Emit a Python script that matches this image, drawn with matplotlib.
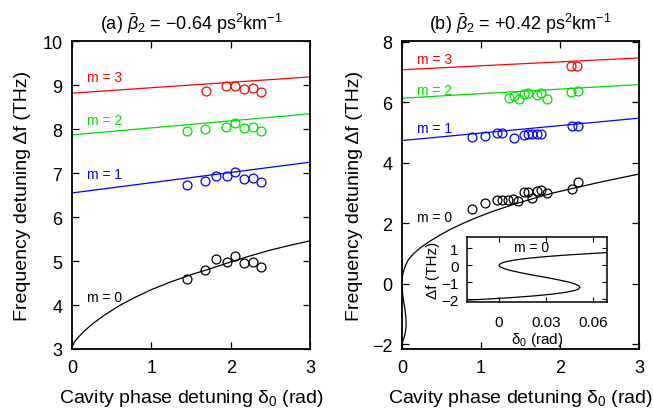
import matplotlib
matplotlib.use("Agg")
import matplotlib.pyplot as plt

plt.rcParams['font.family'] = ['Liberation Sans', 'DejaVu Sans']
plt.rcParams['mathtext.fontset'] = 'custom'
plt.rcParams['mathtext.rm'] = 'Liberation Sans'
plt.rcParams['mathtext.it'] = 'Liberation Sans:italic'
plt.rcParams['mathtext.bf'] = 'Liberation Sans:bold'

# ---------------- data ----------------
orders = ["m = 0", "m = 1", "m = 2", "m = 3"]
colors = ["black", "#0000ff", "#00dd00", "#ff0000"]

# panel (a): measured points
a_m0_d = [1.45, 1.68, 1.82, 1.95, 2.06, 2.17, 2.28, 2.38]
a_m0_f = [4.59, 4.80, 5.05, 4.99, 5.12, 4.96, 4.99, 4.86]
a_m1_d = [1.45, 1.68, 1.82, 1.95, 2.06, 2.17, 2.28, 2.38]
a_m1_f = [6.74, 6.82, 6.93, 6.93, 7.02, 6.87, 6.90, 6.79]
a_m2_d = [1.45, 1.68, 1.94, 2.06, 2.17, 2.28, 2.38]
a_m2_f = [7.97, 8.01, 8.06, 8.13, 8.02, 8.04, 7.97]
a_m3_d = [1.69, 1.94, 2.06, 2.17, 2.28, 2.38]
a_m3_f = [8.88, 8.99, 8.99, 8.92, 8.94, 8.85]
# panel (a): theory lines (endpoints at delta = 0 and 3)
line_d = [0.0, 3.0]
a_m1_line = [6.55, 7.25]
a_m2_line = [7.87, 8.35]
a_m3_line = [8.82, 9.19]
# panel (a): m = 0 theory curve
a_m0_curve_d = [0, 0.03, 0.08, 0.15, 0.25, 0.4, 0.6, 0.8, 1.0, 1.25, 1.5,
                1.75, 2.0, 2.25, 2.5, 2.75, 3.0]
a_m0_curve_f = [3.05, 3.16, 3.27, 3.40, 3.56, 3.76, 3.99, 4.18, 4.35, 4.53,
                4.69, 4.83, 4.98, 5.12, 5.25, 5.36, 5.46]

# panel (b): measured points
b_m0_d = [0.88, 1.05, 1.20, 1.27, 1.34, 1.41, 1.47, 1.54, 1.60, 1.65, 1.71,
          1.76, 1.83, 2.15, 2.23]
b_m0_f = [2.47, 2.66, 2.78, 2.78, 2.78, 2.81, 2.73, 3.03, 3.03, 2.83, 3.06,
          3.09, 3.00, 3.14, 3.36]
b_m1_d = [0.89, 1.05, 1.20, 1.27, 1.42, 1.54, 1.59, 1.65, 1.71, 1.76, 2.15,
          2.23]
b_m1_f = [4.85, 4.90, 4.98, 4.98, 4.82, 4.93, 4.94, 4.94, 4.96, 4.97, 5.22,
          5.22]
b_m2_d = [1.36, 1.42, 1.48, 1.54, 1.60, 1.71, 1.76, 1.83, 2.14, 2.23]
b_m2_f = [6.15, 6.21, 6.10, 6.28, 6.30, 6.25, 6.31, 6.12, 6.36, 6.38]
b_m3_d = [2.14, 2.22]
b_m3_f = [7.20, 7.20]
# panel (b): theory lines
b_m1_line = [4.74, 5.48]
b_m2_line = [6.14, 6.59]
b_m3_line = [7.08, 7.47]
# panel (b): m = 0 theory curve (frequency, phase) pairs
b_m0_curve_f = [-2.2, -2.1, -2.0, -1.9, -1.8, -1.7, -1.6, -1.5, -1.4, -1.3,
                -1.2, -1.1, -1.0, -0.9, -0.8, -0.7, -0.6, -0.5, -0.4, -0.3,
                -0.2, -0.1, 0.0, 0.1, 0.2, 0.3, 0.4, 0.5, 0.6, 0.7, 0.8, 1.0,
                1.2, 1.4, 1.6, 1.8, 2.0, 2.2, 2.4, 2.6, 2.8, 3.0, 3.2, 3.4,
                3.6, 3.7]
b_m0_curve_d = [-0.057, -0.031, -0.0094, 0.0085, 0.0228, 0.034, 0.042,
                0.0476, 0.0507, 0.0516, 0.0508, 0.0483, 0.0447, 0.040, 0.0346,
                0.0288, 0.0228, 0.0170, 0.0117, 0.0070, 0.0033, 0.0009, 0.0,
                0.001, 0.004, 0.0095, 0.0177, 0.0288, 0.0431, 0.061, 0.08,
                0.145, 0.235, 0.345, 0.47, 0.61, 0.77, 0.95, 1.15, 1.38, 1.63,
                1.90, 2.23, 2.57, 2.94, 3.13]

xticks = [0, 1, 2, 3]
a_yticks = [3, 4, 5, 6, 7, 8, 9, 10]
b_yticks = [-2, 0, 2, 4, 6, 8]
inset_xticks = [0, 0.03, 0.06]
inset_xticklabels = ["0", "0.03", "0.06"]
inset_yticks = [-2, -1, 0, 1]

# ---------------- figure ----------------
W, H = 653, 414
fig = plt.figure(figsize=(W / 100, H / 100), dpi=100)

def frac(x0, y0, x1, y1):
    return [x0 / W, 1 - y1 / H, (x1 - x0) / W, (y1 - y0) / H]

axA = fig.add_axes(frac(72, 42.3, 310, 350))
axB = fig.add_axes(frac(402, 42.3, 639, 350))

lw = 0.9
ms = 6.4
mew = 0.9
xlab = "Cavity phase detuning δ$_0$ (rad)"
ylab = "Frequency detuning Δf (THz)"

def style(ax):
    ax.tick_params(direction='in', top=True, right=True, length=5, width=0.9,
                   labelsize=13, pad=7)
    for s in ax.spines.values():
        s.set_linewidth(1.3)

# panel (a)
axA.plot(a_m0_curve_d, a_m0_curve_f, color=colors[0], lw=lw)
axA.plot(line_d, a_m1_line, color=colors[1], lw=lw)
axA.plot(line_d, a_m2_line, color=colors[2], lw=lw)
axA.plot(line_d, a_m3_line, color=colors[3], lw=lw)
for d, f, c in [(a_m0_d, a_m0_f, colors[0]), (a_m1_d, a_m1_f, colors[1]),
                (a_m2_d, a_m2_f, colors[2]), (a_m3_d, a_m3_f, colors[3])]:
    axA.plot(d, f, 'o', mfc='none', mec=c, ms=ms, mew=mew)
for lab, c, y in zip(orders, colors, [4.18, 6.99, 8.2, 9.19]):
    axA.text(0.19, y, lab, color=c, fontsize=10, va='center', ha='left')
axA.set_xlim(0, 3)
axA.set_ylim(3, 10)
axA.set_xticks(xticks)
axA.set_yticks(a_yticks)
style(axA)
axA.set_xlabel(xlab, fontsize=14, labelpad=8)
axA.set_ylabel(ylab, fontsize=14, labelpad=8)
axA.set_title(r"(a) $\bar{\beta}_2$ = $-$0.64 ps$^2$km$^{-1}$", fontsize=13, pad=9)

# panel (b)
axB.plot(b_m0_curve_d, b_m0_curve_f, color=colors[0], lw=lw)
axB.plot(line_d, b_m1_line, color=colors[1], lw=lw)
axB.plot(line_d, b_m2_line, color=colors[2], lw=lw)
axB.plot(line_d, b_m3_line, color=colors[3], lw=lw)
for d, f, c in [(b_m0_d, b_m0_f, colors[0]), (b_m1_d, b_m1_f, colors[1]),
                (b_m2_d, b_m2_f, colors[2]), (b_m3_d, b_m3_f, colors[3])]:
    axB.plot(d, f, 'o', mfc='none', mec=c, ms=ms, mew=mew)
for lab, c, y in zip(orders, colors, [2.21, 5.15, 6.42, 7.42]):
    axB.text(0.19, y, lab, color=c, fontsize=10, va='center', ha='left')
axB.set_xlim(0, 3)
axB.set_ylim(-2.15, 8.02)
axB.set_xticks(xticks)
axB.set_yticks(b_yticks)
style(axB)
axB.set_xlabel(xlab, fontsize=14, labelpad=8)
axB.set_ylabel(ylab, fontsize=14, labelpad=6)
axB.set_title(r"(b) $\bar{\beta}_2$ = +0.42 ps$^2$km$^{-1}$", fontsize=13, pad=9)

# inset
axI = fig.add_axes(frac(467, 238, 607.3, 303.3))
axI.plot(b_m0_curve_d, b_m0_curve_f, color='black', lw=lw)
axI.set_xlim(-0.0204, 0.069)
axI.set_ylim(-2.18, 1.66)
axI.set_xticks(inset_xticks)
axI.set_xticklabels(inset_xticklabels)
axI.set_yticks(inset_yticks)
axI.tick_params(direction='in', top=True, right=True, length=3.5, width=0.8,
                labelsize=11)
axI.tick_params(axis='x', pad=9)
axI.tick_params(axis='y', pad=6)
for s in axI.spines.values():
    s.set_linewidth(1.1)
axI.text(0.021, 1.08, "m = 0", fontsize=10, ha='center', va='center')
axI.set_xlabel("δ$_0$ (rad)", fontsize=11, labelpad=1)
axI.set_ylabel("Δf (THz)", fontsize=11, labelpad=1)

fig.savefig("out.png", dpi=100)
